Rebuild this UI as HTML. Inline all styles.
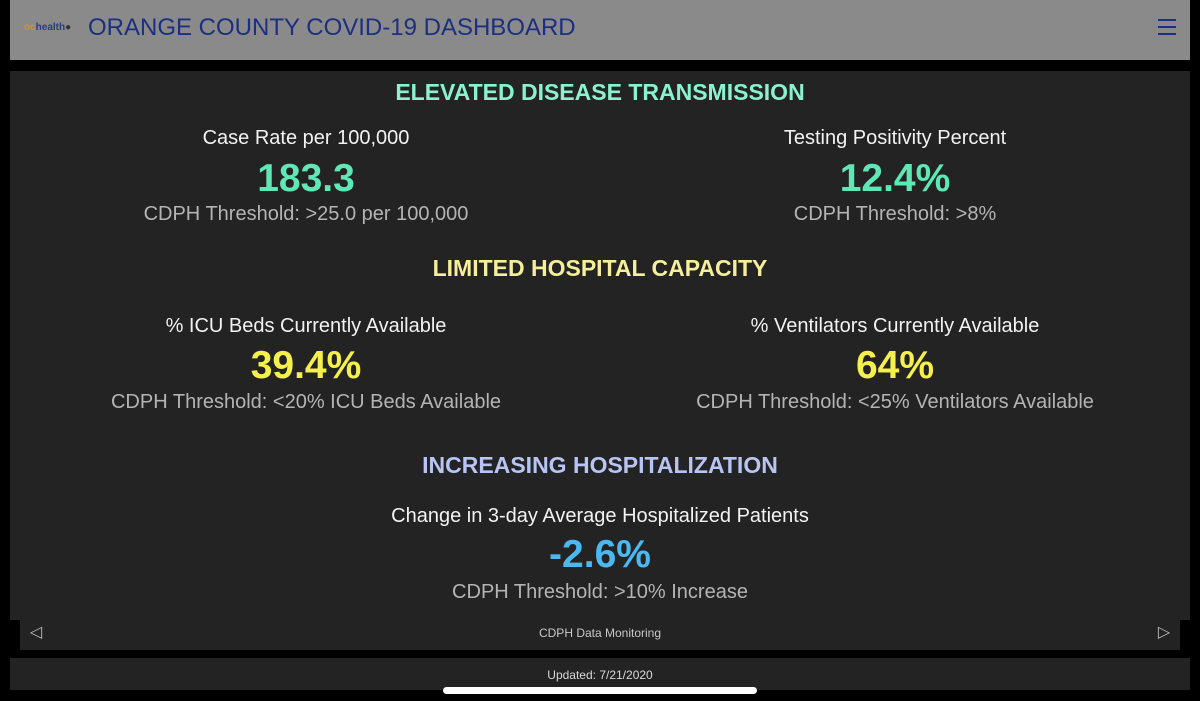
<!DOCTYPE html>
<html><head><meta charset="utf-8"><style>
body{margin:0;width:1200px;height:701px;background:#000;overflow:hidden;font-family:"Liberation Sans",sans-serif;position:relative}
.a{position:absolute;white-space:nowrap;line-height:1;transform:translateX(-50%)}
.hd{font-size:23px;font-weight:bold}
.lb{font-size:20px;color:#f2f2f2}
.v{font-size:39px;font-weight:bold}
.th{font-size:20px;color:#b4b4b4}
</style></head><body>
<div style="position:absolute;left:10px;top:0;width:1180px;height:60px;background:#8a8a8a"></div>
<div style="position:absolute;left:24px;top:23px;font-size:10px;color:#c9962a;line-height:1;font-weight:bold">oc<span style="color:#2a3a8a">health</span><span style="color:#333">&#9679;</span></div>
<div style="position:absolute;left:88px;top:16px;font-size:24px;color:#1c2f80;line-height:1">ORANGE COUNTY COVID-19 DASHBOARD</div>
<div style="position:absolute;left:1158px;top:19px;width:18px">
<div style="height:2px;background:#1c2f80;margin-bottom:5px"></div><div style="height:2px;background:#1c2f80;margin-bottom:5px"></div><div style="height:2px;background:#1c2f80"></div></div>
<div style="position:absolute;left:10px;top:71px;width:1180px;height:549px;background:#232323"></div>

<div class="a hd" style="left:600px;top:81px;color:#8af2cf">ELEVATED DISEASE TRANSMISSION</div>
<div class="a lb" style="left:306px;top:128px">Case Rate per 100,000</div>
<div class="a v" style="left:306px;top:159px;color:#5ee8b6">183.3</div>
<div class="a th" style="left:306px;top:204px">CDPH Threshold: &gt;25.0 per 100,000</div>
<div class="a lb" style="left:895px;top:128px">Testing Positivity Percent</div>
<div class="a v" style="left:895px;top:159px;color:#5ee8b6">12.4%</div>
<div class="a th" style="left:895px;top:204px">CDPH Threshold: &gt;8%</div>

<div class="a hd" style="left:600px;top:257px;color:#f5ee9a">LIMITED HOSPITAL CAPACITY</div>
<div class="a lb" style="left:306px;top:316px">% ICU Beds Currently Available</div>
<div class="a v" style="left:306px;top:346px;color:#f5f04a">39.4%</div>
<div class="a th" style="left:306px;top:392px">CDPH Threshold: &lt;20% ICU Beds Available</div>
<div class="a lb" style="left:895px;top:316px">% Ventilators Currently Available</div>
<div class="a v" style="left:895px;top:346px;color:#f5f04a">64%</div>
<div class="a th" style="left:895px;top:392px">CDPH Threshold: &lt;25% Ventilators Available</div>

<div class="a hd" style="left:600px;top:454px;color:#b8c4f2">INCREASING HOSPITALIZATION</div>
<div class="a lb" style="left:600px;top:506px">Change in 3-day Average Hospitalized Patients</div>
<div class="a v" style="left:600px;top:535px;color:#4cb8f0">-2.6%</div>
<div class="a th" style="left:600px;top:582px">CDPH Threshold: &gt;10% Increase</div>

<div style="position:absolute;left:20px;top:620px;width:1160px;height:30px;background:#232323"></div>
<div class="a" style="left:36px;top:625px;font-size:16px;color:#bbb">&#9665;</div>
<div class="a" style="left:600px;top:627px;font-size:12px;color:#c8c8c8">CDPH Data Monitoring</div>
<div class="a" style="left:1164px;top:625px;font-size:16px;color:#bbb">&#9655;</div>
<div style="position:absolute;left:10px;top:658px;width:1180px;height:32px;background:#232323"></div>
<div class="a" style="left:600px;top:669px;font-size:12px;color:#d8d8d8">Updated: 7/21/2020</div>
<div style="position:absolute;left:443px;top:687px;width:314px;height:7px;border-radius:4px;background:#fff"></div>
</body></html>
